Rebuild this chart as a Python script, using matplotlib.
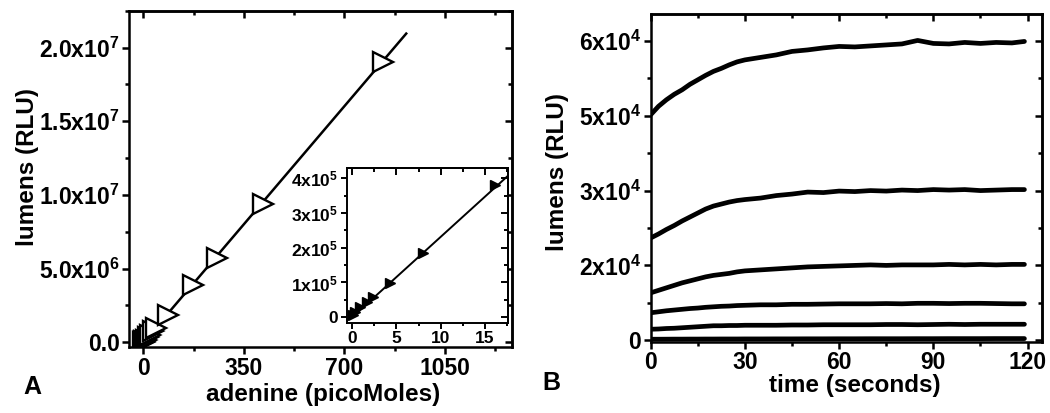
import matplotlib
matplotlib.use("Agg")
import matplotlib.pyplot as plt

plt.rcParams['font.family'] = ['Liberation Sans', 'DejaVu Sans']
plt.rcParams['font.weight'] = 'bold'
plt.rcParams['mathtext.fontset'] = 'custom'
plt.rcParams['mathtext.rm'] = 'Liberation Sans'
plt.rcParams['mathtext.it'] = 'Liberation Sans'
plt.rcParams['mathtext.bf'] = 'Liberation Sans:bold'

# panel A - adenine standard curve (open triangles)
adenine_pm = [0.5, 2, 4, 8, 16, 22, 33, 44, 87, 174, 255, 418, 835]
adenine_rlu = [1.0e4, 4.5e4, 9.8e4, 1.84e5, 3.8e5, 5.0e5, 7.5e5, 9.5e5,
               1.85e6, 3.89e6, 5.74e6, 9.39e6, 1.904e7]
fit_x = [0, 915]
fit_y = [0, 2.095e7]

# inset - low range (filled triangles)
inset_pm = [0.1, 0.3, 0.87, 1.63, 2.38, 4.26, 8.03, 16.1]
inset_rlu = [5e3, 1.6e4, 3.0e4, 4.5e4, 5.9e4, 9.8e4, 1.84e5, 3.81e5]
inset_fit_x = [0, 17.5]
inset_fit_y = [0, 4.05e5]

# panel B - kinetics, six traces
time_s = [0, 2.5, 5, 7.5, 10, 12.5, 15, 17.5, 20, 22.5, 25, 27.5, 30, 35, 40, 45,
          50, 55, 60, 65, 70, 75, 80, 85, 90, 95, 100, 105, 110, 115, 119]
trace1 = [45200, 46900, 48200, 49300, 50200, 51300, 52200, 53100, 53900, 54500, 55200, 55800,
          56200, 56700, 57200, 57900, 58200, 58600, 58900, 58800, 59000, 59200, 59400, 60100,
          59500, 59400, 59700, 59500, 59700, 59600, 59900]
trace2 = [20500, 21300, 22200, 23000, 23900, 24700, 25500, 26300, 26900, 27300, 27700, 28000,
          28200, 28500, 29000, 29300, 29700, 29600, 29900, 29800, 30000, 29900, 30100, 30000,
          30200, 30100, 30200, 30000, 30100, 30200, 30200]
trace3 = [9500, 10000, 10500, 11000, 11500, 11900, 12300, 12700, 13000, 13200, 13400, 13700,
          13900, 14100, 14300, 14500, 14700, 14800, 14900, 15000, 15100, 15000, 15100, 15100,
          15100, 15200, 15100, 15200, 15100, 15200, 15200]
trace4 = [5500, 5700, 5900, 6050, 6200, 6350, 6450, 6600, 6700, 6800, 6850, 6950,
          7000, 7100, 7100, 7200, 7200, 7250, 7300, 7300, 7300, 7350, 7300, 7400,
          7400, 7350, 7400, 7400, 7350, 7300, 7300]
trace5 = [2200, 2250, 2350, 2400, 2500, 2600, 2700, 2800, 2900, 2900, 2950, 2950,
          3000, 3000, 3000, 3050, 3050, 3100, 3100, 3100, 3100, 3150, 3150, 3100,
          3150, 3200, 3150, 3200, 3200, 3200, 3200]
trace6 = [200, 200, 210, 220, 220, 230, 230, 240, 240, 250, 250, 250,
          260, 260, 270, 270, 280, 280, 290, 290, 300, 300, 300, 310,
          310, 320, 320, 320, 330, 330, 330]
traces = [trace1, trace2, trace3, trace4, trace5, trace6]

b_ticks = [0, 15000, 30000, 45000, 60000]
b_ticklabels = ['0', r'2x10$^{4}$', r'3x10$^{4}$', r'5x10$^{4}$', r'6x10$^{4}$']

fig = plt.figure(figsize=(10.5, 4.13), dpi=100)


def style_axes(ax, size, minor_x, minor_y, lw=1.8):
    for s in ax.spines.values():
        s.set_linewidth(lw)
    ax.xaxis.set_minor_locator(plt.MultipleLocator(minor_x))
    ax.yaxis.set_minor_locator(plt.MultipleLocator(minor_y))
    ax.tick_params(which='both', direction='out', width=lw, labelsize=size, pad=2)
    ax.tick_params(which='major', length=5)
    ax.tick_params(which='minor', length=3)
    # mirrored ticks on top/right pointing inward
    top = ax.secondary_xaxis('top')
    top.set_xticks(ax.get_xticks())
    top.xaxis.set_minor_locator(plt.MultipleLocator(minor_x))
    top.tick_params(which='both', direction='in', width=lw, labeltop=False)
    top.tick_params(which='major', length=5)
    top.tick_params(which='minor', length=3)
    right = ax.secondary_yaxis('right')
    right.set_yticks(ax.get_yticks())
    right.yaxis.set_minor_locator(plt.MultipleLocator(minor_y))
    right.tick_params(which='both', direction='in', width=lw, labelright=False)
    right.tick_params(which='major', length=5)
    right.tick_params(which='minor', length=3)
    top.spines['top'].set_linewidth(lw)
    right.spines['right'].set_linewidth(lw)


# ---- panel A
axA = fig.add_axes([0.1231, 0.159, 0.3642, 0.815])
axA.plot(fit_x, fit_y, color='k', lw=1.8, zorder=2)
axA.plot(adenine_pm, adenine_rlu, ls='none', marker='>', ms=15, mfc='white',
         mec='k', mew=1.7, zorder=3)
axA.set_xlim(-49, 1282)
axA.set_ylim(-3.4e5, 2.25e7)
axA.set_xticks([0, 350, 700, 1050])
axA.set_yticks([0, 5e6, 1e7, 1.5e7, 2e7])
axA.set_yticklabels(['0.0', r'5.0x10$^{6}$', r'1.0x10$^{7}$', r'1.5x10$^{7}$', r'2.0x10$^{7}$'])
style_axes(axA, 16.5, 175, 2.5e6)
axA.set_xlabel('adenine (picoMoles)', fontsize=17.5, fontweight='bold')
axA.set_ylabel('lumens (RLU)', fontsize=17.5, fontweight='bold')
axA.xaxis.set_label_coords(0.507, -0.105)
axA.yaxis.set_label_coords(-0.235, 0.537)

# ---- inset
axI = fig.add_axes([0.3302, 0.2186, 0.1539, 0.3738])
axI.plot(inset_fit_x, inset_fit_y, color='k', lw=1.4, zorder=2)
axI.plot(inset_pm, inset_rlu, ls='none', marker='>', ms=6.5, color='k', zorder=3)
axI.set_xlim(-0.63, 17.65)
axI.set_ylim(-1.6e4, 4.29e5)
axI.set_xticks([0, 5, 10, 15])
axI.set_yticks([0, 1e5, 2e5, 3e5, 4e5])
axI.set_yticklabels(['0', r'1x10$^{5}$', r'2x10$^{5}$', r'3x10$^{5}$', r'4x10$^{5}$'])
style_axes(axI, 12.5, 2.5, 5e4, lw=1.4)
axI.tick_params(which='major', length=4)
axI.tick_params(which='minor', length=2.5)

# ---- panel B
axB = fig.add_axes([0.6197, 0.1726, 0.3724, 0.7935])
for tr in traces:
    axB.plot(time_s, tr, color='k', lw=3.4, solid_capstyle='round')
axB.set_xlim(0, 124.5)
axB.set_ylim(-300, 65400)
axB.set_xticks([0, 30, 60, 90, 120])
axB.set_yticks(b_ticks)
axB.set_yticklabels(b_ticklabels)
style_axes(axB, 16.5, 15, 7500)
axB.set_xlabel('time (seconds)', fontsize=17.5, fontweight='bold')
axB.set_ylabel('lumens (RLU)', fontsize=17.5, fontweight='bold')
axB.xaxis.set_label_coords(0.522, -0.1)
axB.yaxis.set_label_coords(-0.21, 0.519)

fig.text(32 / 1050, 1 - 387 / 413, 'A', fontsize=18, fontweight='bold', ha='center', va='center')
fig.text(551 / 1050, 1 - 383 / 413, 'B', fontsize=18, fontweight='bold', ha='center', va='center')

fig.savefig('out.png', dpi=100)
